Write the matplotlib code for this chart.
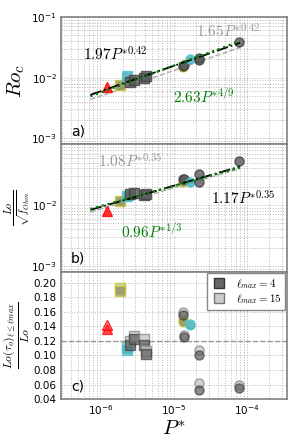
import numpy as np
import matplotlib
matplotlib.use("Agg")
import matplotlib.pyplot as plt
from matplotlib.ticker import LogLocator, NullFormatter, FuncFormatter

# ---------------- data ----------------
P      = [1.24e-6, 1.82e-6, 2.33e-6, 2.56e-6, 2.9e-6, 3.9e-6, 4.2e-6,
          1.33e-5, 1.35e-5, 1.36e-5, 1.68e-5, 2.2e-5, 2.2e-5, 7.8e-5]
Ro_c   = [6.9e-3, 7.7e-3, 1.08e-2, 8.6e-3, 9.3e-3, 1.0e-2, 1.06e-2,
          1.5e-2, 1.55e-2, 1.6e-2, 2.0e-2, 1.95e-2, 2.1e-2, 3.8e-2]
Lo_f   = [7.9e-3, 1.17e-2, 1.41e-2, 1.53e-2, 1.58e-2, 1.45e-2, 1.5e-2,
          2.4e-2, 2.7e-2, 2.65e-2, 2.4e-2, 3.3e-2, 2.4e-2, 5.4e-2]
ratio4 = [0.137, 0.188, 0.107, 0.115, 0.122, 0.115, 0.102,
          0.146, 0.155, 0.125, 0.142, 0.101, 0.053, 0.055]
ratio15 = [0.142, 0.192, 0.111, 0.120, 0.127, 0.122, 0.106,
           0.149, 0.160, 0.128, 0.143, 0.108, 0.062, 0.060]
kind   = ['red', 'yellow', 'cyan', 'gray', 'gray', 'gray', 'gray',
          'yellow', 'gray', 'gray', 'cyan', 'gray', 'gray', 'gray']
shape  = ['^', 's', 's', 's', 's', 's', 's',
          'o', 'o', 'o', 'o', 'o', 'o', 'o']

fit_P = [7.3e-7, 8.0e-5]
fit_a = [(1.97, 0.42), (2.63, 4/9), (1.65, 0.42)]
fit_b = [(1.17, 0.35), (0.96, 1/3), (1.08, 0.35)]
ratio_ref = 0.12

# ---------------- style ----------------
plt.rcParams['font.family'] = ['DejaVu Sans']
plt.rcParams['mathtext.fontset'] = 'dejavusans'

fig = plt.figure(figsize=(2.99, 4.44), dpi=100)
gs = fig.add_gridspec(3, 1, left=0.204, right=0.96, top=0.962, bottom=0.101, hspace=0)
axes = [fig.add_subplot(gs[i]) for i in range(3)]
for ax in axes[1:]:
    ax.sharex(axes[0])

grid_kw = dict(color='#b8b8b8', linestyle=':', linewidth=0.7)

def style4(k):
    if k == 'red':
        return dict(mfc='red', mec='red')
    if k == 'yellow':
        return dict(mfc='#8a8a55', mec='#c8c828')
    if k == 'cyan':
        return dict(mfc='#45aab8', mec='#40c8d0')
    return dict(mfc='#5a5a5a', mec='#404040')

def style15(k):
    if k == 'red':
        return dict(mfc='#ffb0b0', mec='red')
    if k == 'yellow':
        return dict(mfc='#c8c8c0', mec='#c8c828')
    if k == 'cyan':
        return dict(mfc='#a8dce0', mec='#40c8d0')
    return dict(mfc='#cccccc', mec='#909090')

fx = np.array(fit_P)

def draw_fits(ax, fits):
    c0, e0 = fits[2]
    ax.plot(fx, c0 * fx**e0, ls='--', color='#aaaaaa', lw=1.0, zorder=2)
    c0, e0 = fits[0]
    ax.plot(fx, c0 * fx**e0, ls='-.', color='black', lw=1.3, zorder=4)
    c0, e0 = fits[1]
    ax.plot(fx, c0 * fx**e0, ls=':', color='green', lw=1.6, zorder=5)

for ax, yv, fits in [(axes[0], Ro_c, fit_a), (axes[1], Lo_f, fit_b)]:
    draw_fits(ax, fits)
    for p, v, k, m in zip(P, yv, kind, shape):
        ax.plot([p], [v], marker=m, ms=6.5 if m != '^' else 7, ls='none',
                alpha=0.8, mew=1.0, zorder=3, **style4(k))
    ax.set_yscale('log')
    ax.set_ylim(8e-4, 1e-1)

ax = axes[2]
ax.axhline(ratio_ref, ls='--', color='#999999', lw=1.0, zorder=1)
for p, v4, v15, k, m in zip(P, ratio4, ratio15, kind, shape):
    ax.plot([p], [v15], marker=m, ms=6.5 if m != '^' else 7, ls='none',
            alpha=0.85, mew=1.0, zorder=3, **style15(k))
    ax.plot([p], [v4], marker=m, ms=6.5 if m != '^' else 7, ls='none',
            alpha=0.7, mew=1.0, zorder=3, **style4(k))
ax.set_ylim(0.04, 0.215)
ax.set_yticks(np.arange(0.04, 0.201, 0.02))
ax.set_yticklabels(['%.2f' % t for t in np.arange(0.04, 0.201, 0.02)])

lh = [plt.Line2D([], [], marker='s', ls='none', ms=7, mfc='#666666', mec='#333333'),
      plt.Line2D([], [], marker='s', ls='none', ms=7, mfc='#cccccc', mec='#777777')]
leg = ax.legend(lh, [r'$\ell_{max}=4$', r'$\ell_{max}=15$'], loc='upper right',
                fontsize=8, handletextpad=0.8, borderpad=0.3, labelspacing=0.15,
                fancybox=False, framealpha=1, borderaxespad=0.15, handlelength=1.5)
leg.get_frame().set_edgecolor('#888888')
for t in leg.get_texts():
    t.set_math_fontfamily('cm')

axes[0].set_xscale('log')
axes[0].set_xlim(2.9e-7, 3.5e-4)

for i, ax in enumerate(axes):
    ax.set_axisbelow(True)
    ax.grid(True, which='major', **grid_kw)
    ax.grid(True, which='minor', axis='x', **grid_kw)
    if i < 2:
        ax.grid(True, which='minor', axis='y', **grid_kw)
        ax.yaxis.set_major_locator(LogLocator(base=10, numticks=10))
        ax.yaxis.set_minor_locator(LogLocator(base=10, subs=np.arange(2, 10), numticks=20))
        ax.yaxis.set_minor_formatter(NullFormatter())
    ax.xaxis.set_major_locator(LogLocator(base=10, numticks=10))
    ax.xaxis.set_minor_locator(LogLocator(base=10, subs=np.arange(2, 10), numticks=20))
    ax.xaxis.set_minor_formatter(NullFormatter())
    for s in ax.spines.values():
        s.set_color('#808080')
        s.set_linewidth(1.2)
    ax.tick_params(which='both', length=0, labelsize=7.5, pad=3)
    if i < 2:
        ax.tick_params(labelbottom=False)

# hide top label of panel b
axes[1].yaxis.set_major_formatter(FuncFormatter(
    lambda v, pos: '' if v >= 0.05 else r'$10^{%d}$' % round(np.log10(v))))

# annotations
tkw = dict(transform=axes[0].transAxes, ha='center', va='center', fontsize=11, math_fontfamily='cm')
axes[0].text(0.24, 0.705, r'$1.97P^{*0.42}$', color='black', **tkw)
axes[0].text(0.74, 0.884, r'$1.65P^{*0.42}$', color='#999999', **tkw)
axes[0].text(0.633, 0.372, r'$2.63P^{*4/9}$', color='green', **tkw)
tkw['transform'] = axes[1].transAxes
axes[1].text(0.305, 0.865, r'$1.08P^{*0.35}$', color='#999999', **tkw)
axes[1].text(0.806, 0.571, r'$1.17P^{*0.35}$', color='black', **tkw)
axes[1].text(0.40, 0.317, r'$0.96P^{*1/3}$', color='green', **tkw)

for ax, lab in zip(axes, ['a)', 'b)', 'c)']):
    ax.text(0.045, 0.10, lab, transform=ax.transAxes, ha='left', va='center', fontsize=10)

axes[0].set_ylabel(r'$Ro_c$', fontsize=15, math_fontfamily='cm')
axes[1].set_ylabel(r'$\frac{Lo}{\sqrt{f_{Ohm}}}$', fontsize=10.5, math_fontfamily='cm')
axes[2].set_ylabel(r'$\frac{Lo(\tau_o)_{\ell\leq\ell max}}{Lo}$', fontsize=12, math_fontfamily='cm')
axes[0].yaxis.set_label_coords(-0.15, 0.5)
axes[1].yaxis.set_label_coords(-0.125, 0.5)
axes[2].yaxis.set_label_coords(-0.13, 0.5)
axes[2].set_xlabel(r'$P^{*}$', fontsize=15, math_fontfamily='cm', labelpad=1)

fig.savefig('out.png', dpi=100)
